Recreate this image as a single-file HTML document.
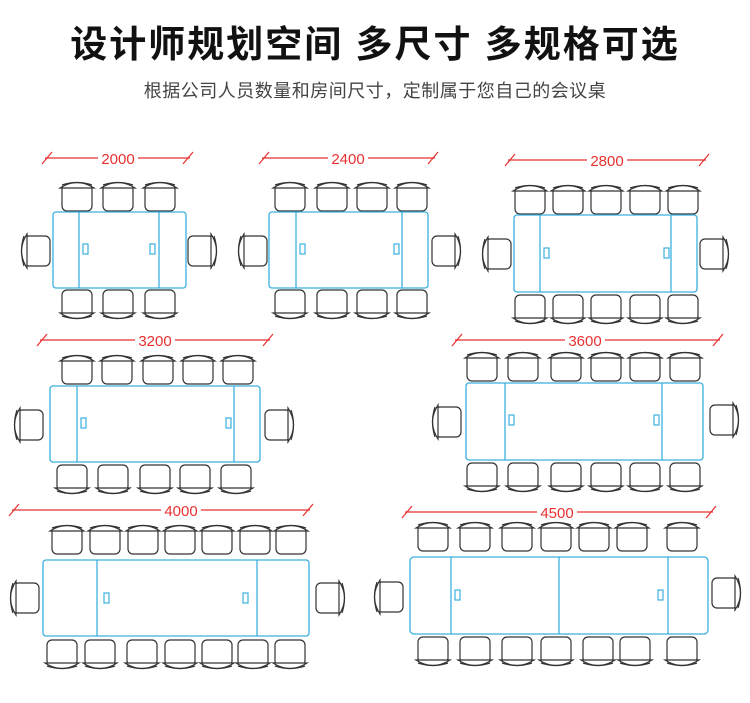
<!DOCTYPE html>
<html><head><meta charset="utf-8"><style>
body{margin:0;background:#fff;width:750px;height:703px;overflow:hidden}
svg{display:block}
.t{font-family:"Liberation Sans","Noto Sans CJK SC",sans-serif}
</style></head><body>
<svg width="750" height="703" viewBox="0 0 750 703" xmlns="http://www.w3.org/2000/svg">
<defs>
<g id="ct" fill="none" stroke="#333" stroke-width="1.2">
<rect x="-15" y="5" width="30" height="26" rx="5" fill="#fff"/>
<path d="M-17,8 Q0,-3 17,8 Z" fill="#fff"/>
<path d="M-15,5 Q0,0 15,5"/>
</g>
<g id="sm"><rect width="5" height="10" fill="none" stroke="#3ab0e0" stroke-width="1.2"/></g>
</defs>
<text class="t" x="375" y="57" font-size="37" font-weight="bold" text-anchor="middle" fill="#111" letter-spacing="2">设计师规划空间 多尺寸 多规格可选</text>
<text class="t" x="375" y="97" font-size="18" text-anchor="middle" fill="#444" letter-spacing="0.5">根据公司人员数量和房间尺寸，定制属于您自己的会议桌</text>

<g stroke="#e83030" stroke-width="1.2" fill="none">
<line x1="45" y1="158" x2="98" y2="158"/><line x1="138" y1="158" x2="190" y2="158"/><line x1="42" y1="164" x2="52" y2="152"/><line x1="183" y1="164" x2="193" y2="152"/>
<line x1="262" y1="158" x2="328" y2="158"/><line x1="368" y1="158" x2="435" y2="158"/><line x1="259" y1="164" x2="269" y2="152"/><line x1="428" y1="164" x2="438" y2="152"/>
<line x1="508" y1="160" x2="587" y2="160"/><line x1="627" y1="160" x2="706" y2="160"/><line x1="505" y1="166" x2="515" y2="154"/><line x1="699" y1="166" x2="709" y2="154"/>
<line x1="40" y1="340" x2="135" y2="340"/><line x1="175" y1="340" x2="270" y2="340"/><line x1="37" y1="346" x2="47" y2="334"/><line x1="263" y1="346" x2="273" y2="334"/>
<line x1="455" y1="340" x2="565" y2="340"/><line x1="605" y1="340" x2="720" y2="340"/><line x1="452" y1="346" x2="462" y2="334"/><line x1="713" y1="346" x2="723" y2="334"/>
<line x1="12" y1="510" x2="161" y2="510"/><line x1="201" y1="510" x2="310" y2="510"/><line x1="9" y1="516" x2="19" y2="504"/><line x1="303" y1="516" x2="313" y2="504"/>
<line x1="405" y1="512" x2="537" y2="512"/><line x1="577" y1="512" x2="713" y2="512"/><line x1="402" y1="518" x2="412" y2="506"/><line x1="706" y1="518" x2="716" y2="506"/>
</g>
<g class="t" fill="#e83030" font-size="15" text-anchor="middle">
<text x="118" y="164">2000</text><text x="348" y="164">2400</text><text x="607" y="166">2800</text>
<text x="155" y="346">3200</text><text x="585" y="346">3600</text><text x="181" y="516">4000</text><text x="557" y="518">4500</text>
</g>

<g>
<use href="#ct" transform="translate(77,180)"/><use href="#ct" transform="translate(118,180)"/><use href="#ct" transform="translate(160,180)"/>
<use href="#ct" transform="translate(77,321) scale(1,-1)"/><use href="#ct" transform="translate(118,321) scale(1,-1)"/><use href="#ct" transform="translate(160,321) scale(1,-1)"/>
<use href="#ct" transform="translate(19,251) rotate(-90)"/><use href="#ct" transform="translate(219,251) rotate(90)"/>

<use href="#ct" transform="translate(290,180)"/><use href="#ct" transform="translate(332,180)"/><use href="#ct" transform="translate(372,180)"/><use href="#ct" transform="translate(412,180)"/>
<use href="#ct" transform="translate(290,321) scale(1,-1)"/><use href="#ct" transform="translate(332,321) scale(1,-1)"/><use href="#ct" transform="translate(372,321) scale(1,-1)"/><use href="#ct" transform="translate(412,321) scale(1,-1)"/>
<use href="#ct" transform="translate(236,251) rotate(-90)"/><use href="#ct" transform="translate(463,251) rotate(90)"/>

<use href="#ct" transform="translate(530,183)"/><use href="#ct" transform="translate(568,183)"/><use href="#ct" transform="translate(606,183)"/><use href="#ct" transform="translate(645,183)"/><use href="#ct" transform="translate(683,183)"/>
<use href="#ct" transform="translate(530,326) scale(1,-1)"/><use href="#ct" transform="translate(568,326) scale(1,-1)"/><use href="#ct" transform="translate(606,326) scale(1,-1)"/><use href="#ct" transform="translate(645,326) scale(1,-1)"/><use href="#ct" transform="translate(683,326) scale(1,-1)"/>
<use href="#ct" transform="translate(480,254) rotate(-90)"/><use href="#ct" transform="translate(731,254) rotate(90)"/>

<use href="#ct" transform="translate(77,353)"/><use href="#ct" transform="translate(117,353)"/><use href="#ct" transform="translate(158,353)"/><use href="#ct" transform="translate(198,353)"/><use href="#ct" transform="translate(238,353)"/>
<use href="#ct" transform="translate(72,496) scale(1,-1)"/><use href="#ct" transform="translate(113,496) scale(1,-1)"/><use href="#ct" transform="translate(155,496) scale(1,-1)"/><use href="#ct" transform="translate(195,496) scale(1,-1)"/><use href="#ct" transform="translate(236,496) scale(1,-1)"/>
<use href="#ct" transform="translate(12,425) rotate(-90)"/><use href="#ct" transform="translate(296,425) rotate(90)"/>

<use href="#ct" transform="translate(482,350)"/><use href="#ct" transform="translate(523,350)"/><use href="#ct" transform="translate(566,350)"/><use href="#ct" transform="translate(606,350)"/><use href="#ct" transform="translate(645,350)"/><use href="#ct" transform="translate(685,350)"/>
<use href="#ct" transform="translate(482,494) scale(1,-1)"/><use href="#ct" transform="translate(523,494) scale(1,-1)"/><use href="#ct" transform="translate(566,494) scale(1,-1)"/><use href="#ct" transform="translate(606,494) scale(1,-1)"/><use href="#ct" transform="translate(645,494) scale(1,-1)"/><use href="#ct" transform="translate(685,494) scale(1,-1)"/>
<use href="#ct" transform="translate(430,422) rotate(-90)"/><use href="#ct" transform="translate(741,420) rotate(90)"/>

<use href="#ct" transform="translate(67,523)"/><use href="#ct" transform="translate(105,523)"/><use href="#ct" transform="translate(143,523)"/><use href="#ct" transform="translate(180,523)"/><use href="#ct" transform="translate(217,523)"/><use href="#ct" transform="translate(255,523)"/><use href="#ct" transform="translate(291,523)"/>
<use href="#ct" transform="translate(62,671) scale(1,-1)"/><use href="#ct" transform="translate(100,671) scale(1,-1)"/><use href="#ct" transform="translate(142,671) scale(1,-1)"/><use href="#ct" transform="translate(180,671) scale(1,-1)"/><use href="#ct" transform="translate(217,671) scale(1,-1)"/><use href="#ct" transform="translate(253,671) scale(1,-1)"/><use href="#ct" transform="translate(290,671) scale(1,-1)"/>
<use href="#ct" transform="translate(8,598) rotate(-90)"/><use href="#ct" transform="translate(347,598) rotate(90)"/>

<use href="#ct" transform="translate(433,520)"/><use href="#ct" transform="translate(475,520)"/><use href="#ct" transform="translate(517,520)"/><use href="#ct" transform="translate(556,520)"/><use href="#ct" transform="translate(594,520)"/><use href="#ct" transform="translate(632,520)"/><use href="#ct" transform="translate(682,520)"/>
<use href="#ct" transform="translate(433,668) scale(1,-1)"/><use href="#ct" transform="translate(475,668) scale(1,-1)"/><use href="#ct" transform="translate(517,668) scale(1,-1)"/><use href="#ct" transform="translate(556,668) scale(1,-1)"/><use href="#ct" transform="translate(598,668) scale(1,-1)"/><use href="#ct" transform="translate(635,668) scale(1,-1)"/><use href="#ct" transform="translate(682,668) scale(1,-1)"/>
<use href="#ct" transform="translate(372,597) rotate(-90)"/><use href="#ct" transform="translate(743,593) rotate(90)"/>
</g>

<g fill="#fff" stroke="#3ab0e0" stroke-width="1.3">
<rect x="53" y="212" width="133" height="76" rx="3"/><line x1="79" y1="212" x2="79" y2="288"/><line x1="159" y1="212" x2="159" y2="288"/>
<rect x="269" y="212" width="159" height="76" rx="3"/><line x1="296" y1="212" x2="296" y2="288"/><line x1="402" y1="212" x2="402" y2="288"/>
<rect x="514" y="215" width="183" height="77" rx="3"/><line x1="540" y1="215" x2="540" y2="292"/><line x1="671" y1="215" x2="671" y2="292"/>
<rect x="50" y="386" width="210" height="76" rx="3"/><line x1="77" y1="386" x2="77" y2="462"/><line x1="234" y1="386" x2="234" y2="462"/>
<rect x="466" y="383" width="237" height="77" rx="3"/><line x1="505" y1="383" x2="505" y2="460"/><line x1="662" y1="383" x2="662" y2="460"/>
<rect x="43" y="560" width="266" height="76" rx="3"/><line x1="97" y1="560" x2="97" y2="636"/><line x1="257" y1="560" x2="257" y2="636"/>
<rect x="410" y="557" width="298" height="77" rx="4"/><line x1="451" y1="557" x2="451" y2="634"/><line x1="559" y1="557" x2="559" y2="634"/><line x1="668" y1="557" x2="668" y2="634"/>
</g>
<g>
<use href="#sm" x="83" y="244"/><use href="#sm" x="150" y="244"/>
<use href="#sm" x="300" y="244"/><use href="#sm" x="394" y="244"/>
<use href="#sm" x="544" y="248"/><use href="#sm" x="664" y="248"/>
<use href="#sm" x="81" y="418"/><use href="#sm" x="226" y="418"/>
<use href="#sm" x="509" y="415"/><use href="#sm" x="654" y="415"/>
<use href="#sm" x="104" y="593"/><use href="#sm" x="243" y="593"/>
<use href="#sm" x="455" y="590"/><use href="#sm" x="658" y="590"/>
</g>
</svg>
</body></html>
